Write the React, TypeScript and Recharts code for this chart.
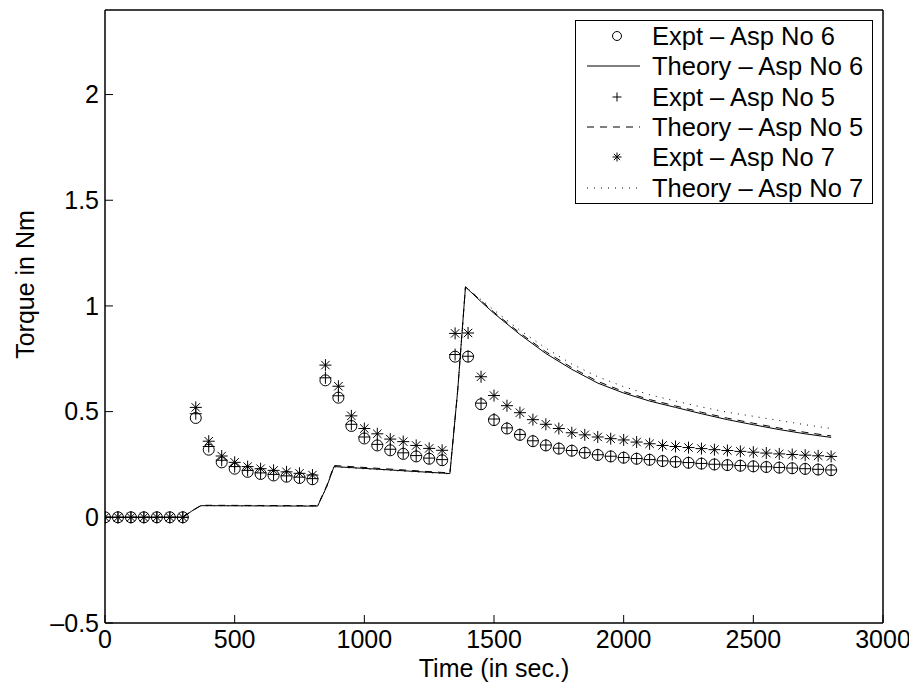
import React from "react";
import { ComposedChart, Line, Scatter, XAxis, YAxis, Legend, Label } from "recharts";

// experimental readings, one every 50 s
const times = [
  0, 50, 100, 150, 200, 250, 300, 350, 400, 450, 500, 550, 600, 650, 700, 750, 800,
  850, 900, 950, 1000, 1050, 1100, 1150, 1200, 1250, 1300, 1350, 1400, 1450, 1500,
  1550, 1600, 1650, 1700, 1750, 1800, 1850, 1900, 1950, 2000, 2050, 2100, 2150, 2200,
  2250, 2300, 2350, 2400, 2450, 2500, 2550, 2600, 2650, 2700, 2750, 2800,
];
const exptAsp6 = [
  0, 0, 0, 0, 0, 0, 0,
  0.47, 0.32, 0.26, 0.23, 0.215, 0.205, 0.198, 0.192, 0.186, 0.18,
  0.648, 0.566, 0.432, 0.373, 0.34, 0.317, 0.3, 0.288, 0.277, 0.27,
  0.76, 0.76,
  0.535, 0.46, 0.42, 0.39, 0.36, 0.34, 0.325, 0.315, 0.305, 0.295, 0.288, 0.282, 0.277, 0.272,
  0.266, 0.262, 0.258, 0.254, 0.25, 0.247, 0.244, 0.241, 0.238, 0.235, 0.232, 0.229, 0.226, 0.223,
];
const exptAsp5 = [
  0, 0, 0, 0, 0, 0, 0,
  0.49, 0.335, 0.27, 0.24, 0.222, 0.21, 0.203, 0.196, 0.19, 0.183,
  0.66, 0.575, 0.44, 0.38, 0.345, 0.322, 0.305, 0.292, 0.28, 0.273,
  0.77, 0.762,
  0.54, 0.465, 0.423, 0.392, 0.362, 0.342, 0.327, 0.316, 0.306, 0.296, 0.289, 0.283, 0.278, 0.273,
  0.267, 0.263, 0.259, 0.255, 0.251, 0.248, 0.245, 0.242, 0.239, 0.236, 0.233, 0.23, 0.227, 0.224,
];
const exptAsp7 = [
  0, 0, 0, 0, 0, 0, 0,
  0.52, 0.36, 0.29, 0.26, 0.24, 0.23, 0.222, 0.215, 0.208, 0.2,
  0.72, 0.62, 0.48, 0.42, 0.395, 0.37, 0.358, 0.34, 0.326, 0.317,
  0.87, 0.872,
  0.665, 0.576, 0.528, 0.495, 0.462, 0.44, 0.42, 0.4, 0.39, 0.38, 0.372, 0.366, 0.356, 0.348,
  0.34, 0.335, 0.33, 0.325, 0.32, 0.316, 0.312, 0.308, 0.304, 0.3, 0.297, 0.294, 0.291, 0.288,
];

// model curves
const theoryTimes = [
  0, 300, 335, 370, 820, 855, 883, 1330, 1360, 1390, 1450, 1500, 1600, 1700, 1800,
  1900, 2000, 2100, 2200, 2300, 2400, 2500, 2600, 2700, 2800,
];
const theoryAsp6 = [
  0, 0, 0.03, 0.055, 0.053, 0.145, 0.24, 0.207, 0.6, 1.09, 1.02, 0.965, 0.865, 0.775, 0.7,
  0.635, 0.588, 0.55, 0.52, 0.49, 0.462, 0.438, 0.415, 0.395, 0.378,
];
const theoryAsp5 = [
  0, 0, 0.03, 0.057, 0.055, 0.15, 0.245, 0.21, 0.6, 1.09, 1.025, 0.97, 0.872, 0.783, 0.708,
  0.643, 0.595, 0.557, 0.527, 0.497, 0.469, 0.445, 0.422, 0.402, 0.385,
];
const theoryAsp7 = [
  0, 0, 0.03, 0.055, 0.053, 0.145, 0.238, 0.205, 0.6, 1.09, 1.03, 0.98, 0.885, 0.8, 0.725,
  0.665, 0.618, 0.58, 0.55, 0.522, 0.497, 0.478, 0.458, 0.438, 0.42,
];

const xTicks = [0, 500, 1000, 1500, 2000, 2500, 3000];
const yTicks = [-0.5, 0, 0.5, 1, 1.5, 2];

const legendLabels = [
  "Expt \u2013 Asp No 6",
  "Theory \u2013 Asp No 6",
  "Expt \u2013 Asp No 5",
  "Theory \u2013 Asp No 5",
  "Expt \u2013 Asp No 7",
  "Theory \u2013 Asp No 7",
];

const font = '"Liberation Sans", Arial, Helvetica, sans-serif';

const toPoints = (xs: number[], ys: number[]) => xs.map((t, i) => ({ t, v: ys[i] }));

const CircleMark = ({ cx, cy, r = 5.5 }: any) => (
  <circle cx={cx} cy={cy} r={r} fill="none" stroke="#000" strokeWidth={1} />
);
const PlusMark = ({ cx, cy, s = 6 }: any) => (
  <path d={`M${cx - s},${cy}H${cx + s}M${cx},${cy - s}V${cy + s}`} stroke="#000" strokeWidth={1} />
);
const StarMark = ({ cx, cy, s = 6 }: any) => {
  const d = s * 0.7;
  return (
    <path
      d={`M${cx - s},${cy}H${cx + s}M${cx},${cy - s}V${cy + s}M${cx - d},${cy - d}L${cx + d},${cy + d}M${cx - d},${cy + d}L${cx + d},${cy - d}`}
      stroke="#000"
      strokeWidth={1}
    />
  );
};

const fmt = (v: number) => (v < 0 ? "\u2013" + Math.abs(v) : String(v));

const LegendBox = () => {
  const symbol = (i: number) => {
    switch (i) {
      case 0:
        return <CircleMark cx={41} cy={15} r={4.5} />;
      case 1:
        return <line x1={11} x2={64} y1={15} y2={15} stroke="#000" strokeWidth={1} />;
      case 2:
        return <PlusMark cx={41} cy={15} s={4.5} />;
      case 3:
        return <line x1={11} x2={64} y1={15} y2={15} stroke="#000" strokeWidth={1} strokeDasharray="7 6" />;
      case 4:
        return <StarMark cx={41} cy={15} s={4.5} />;
      default:
        return <line x1={11} x2={64} y1={15} y2={15} stroke="#000" strokeWidth={1} strokeDasharray="1 6" />;
    }
  };
  return (
    <div
      style={{
        width: 298,
        height: 184,
        boxSizing: "border-box",
        border: "1px solid #000",
        background: "#fff",
        fontFamily: font,
        fontSize: 25.5,
        color: "#000",
      }}
    >
      {legendLabels.map((label, i) => (
        <div key={label} style={{ display: "flex", alignItems: "center", height: 30.33 }}>
          <svg width={76} height={30} style={{ flex: "none" }}>
            {symbol(i)}
          </svg>
          <span style={{ lineHeight: "30px", whiteSpace: "nowrap" }}>{label}</span>
        </div>
      ))}
    </div>
  );
};

export default function App() {
  const tickStyle = { fill: "#000", fontSize: 25, fontFamily: font };
  const axisLine = { stroke: "#000", strokeWidth: 1.5 };
  const tickLine = { stroke: "#000", strokeWidth: 1 };

  return (
    <div style={{ fontFamily: font }}>
      <ComposedChart width={909} height={676} margin={{ top: 1, right: 33, bottom: 0, left: 0 }}>
        <XAxis
          dataKey="t"
          type="number"
          domain={[0, 3000]}
          ticks={xTicks}
          interval={0}
          allowDataOverflow
          height={61}
          tickSize={-8}
          tickMargin={15}
          tick={tickStyle}
          axisLine={axisLine}
          tickLine={tickLine}
        >
          <Label
            value="Time (in sec.)"
            position="insideBottom"
            offset={7}
            style={{ fill: "#000", fontSize: 25, fontFamily: font }}
          />
        </XAxis>
        <XAxis
          xAxisId="top"
          orientation="top"
          type="number"
          domain={[0, 3000]}
          ticks={xTicks}
          interval={0}
          allowDataOverflow
          height={1}
          tickSize={-8}
          tick={false}
          axisLine={axisLine}
          tickLine={tickLine}
        />
        <YAxis
          dataKey="v"
          type="number"
          domain={[-0.5, 2.4]}
          ticks={yTicks}
          interval={0}
          allowDataOverflow
          width={97}
          tickSize={-8}
          tickMargin={14}
          tickFormatter={fmt}
          tick={tickStyle}
          axisLine={axisLine}
          tickLine={tickLine}
        >
          <Label
            value="Torque in Nm"
            angle={-90}
            position="center"
            dx={-31}
            dy={-32}
            style={{ fill: "#000", fontSize: 25, fontFamily: font, textAnchor: "middle" }}
          />
        </YAxis>
        <YAxis
          yAxisId="right"
          orientation="right"
          type="number"
          domain={[-0.5, 2.4]}
          ticks={yTicks}
          interval={0}
          allowDataOverflow
          width={1}
          tickSize={-8}
          tick={false}
          axisLine={axisLine}
          tickLine={tickLine}
        />
        <Legend
          layout="vertical"
          align="center"
          verticalAlign="middle"
          content={() => <LegendBox />}
          wrapperStyle={{ left: 567, top: 12, width: 298, height: 184 }}
        />

        <Scatter
          name="Expt - Asp No 6"
          data={toPoints(times, exptAsp6)}
          dataKey="v"
          shape={(p: any) => <CircleMark cx={p.cx} cy={p.cy} />}
          isAnimationActive={false}
        />
        <Line
          name="Theory - Asp No 6"
          data={toPoints(theoryTimes, theoryAsp6)}
          dataKey="v"
          type="linear"
          stroke="#000"
          strokeWidth={1}
          dot={false}
          activeDot={false}
          isAnimationActive={false}
        />
        <Scatter
          name="Expt - Asp No 5"
          data={toPoints(times, exptAsp5)}
          dataKey="v"
          shape={(p: any) => <PlusMark cx={p.cx} cy={p.cy} />}
          isAnimationActive={false}
        />
        <Line
          name="Theory - Asp No 5"
          data={toPoints(theoryTimes, theoryAsp5)}
          dataKey="v"
          type="linear"
          stroke="#000"
          strokeWidth={1}
          strokeDasharray="7 6"
          dot={false}
          activeDot={false}
          isAnimationActive={false}
        />
        <Scatter
          name="Expt - Asp No 7"
          data={toPoints(times, exptAsp7)}
          dataKey="v"
          shape={(p: any) => <StarMark cx={p.cx} cy={p.cy} />}
          isAnimationActive={false}
        />
        <Line
          name="Theory - Asp No 7"
          data={toPoints(theoryTimes, theoryAsp7)}
          dataKey="v"
          type="linear"
          stroke="#000"
          strokeWidth={1}
          strokeDasharray="1 6"
          dot={false}
          activeDot={false}
          isAnimationActive={false}
        />
      </ComposedChart>
    </div>
  );
}
